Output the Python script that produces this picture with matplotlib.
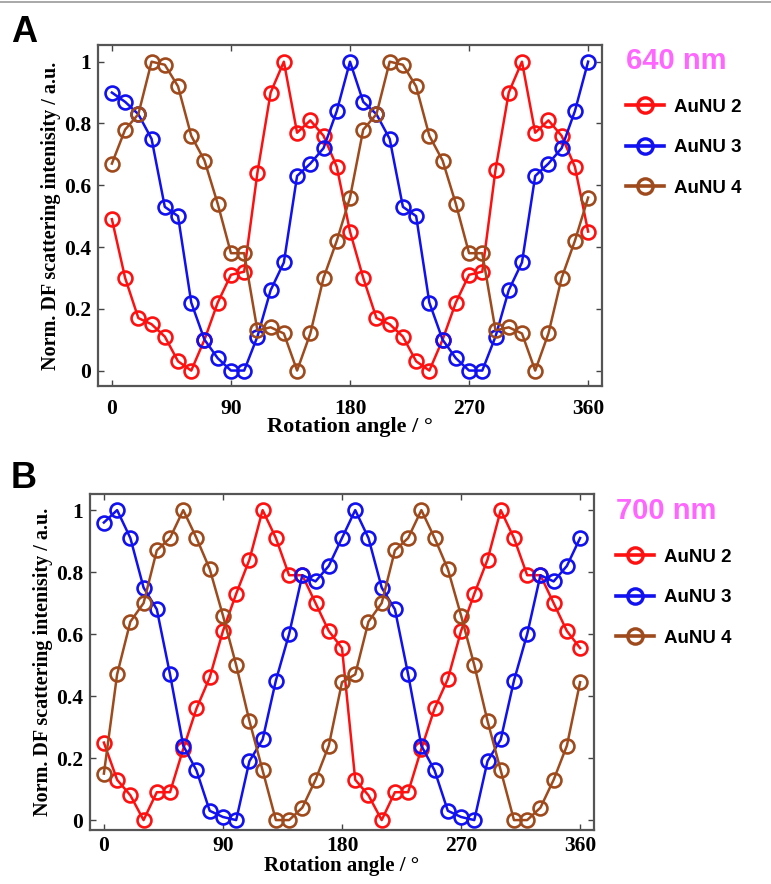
import matplotlib
matplotlib.use('Agg')
import matplotlib.pyplot as plt
from matplotlib.lines import Line2D

# ---------------- data ----------------
angles = list(range(0, 361, 10))
xticks = [0, 90, 180, 270, 360]
yticks = [0, 0.2, 0.4, 0.6, 0.8, 1]
ytick_labels = ['0', '0.2', '0.4', '0.6', '0.8', '1']
series_names = ['AuNU 2', 'AuNU 3', 'AuNU 4']
panel_titles = ['640 nm', '700 nm']
panel_letters = ['A', 'B']

# 640 nm
aunu2_640 = [0.49, 0.30, 0.17, 0.15, 0.11, 0.03, 0.00, 0.10, 0.22, 0.31,
             0.32, 0.64, 0.90, 1.00, 0.77, 0.81, 0.76, 0.66, 0.45, 0.30,
             0.17, 0.15, 0.11, 0.03, 0.00, 0.10, 0.22, 0.31, 0.32, 0.65,
             0.90, 1.00, 0.77, 0.81, 0.76, 0.66, 0.45]
aunu3_640 = [0.90, 0.87, 0.83, 0.75, 0.53, 0.50, 0.22, 0.10, 0.04, 0.00,
             0.00, 0.11, 0.26, 0.35, 0.63, 0.67, 0.72, 0.84, 1.00, 0.87,
             0.83, 0.75, 0.53, 0.50, 0.22, 0.10, 0.04, 0.00, 0.00, 0.11,
             0.26, 0.35, 0.63, 0.67, 0.72, 0.84, 1.00]
aunu4_640 = [0.67, 0.78, 0.83, 1.00, 0.99, 0.92, 0.76, 0.68, 0.54, 0.38,
             0.38, 0.13, 0.14, 0.12, 0.00, 0.12, 0.30, 0.42, 0.56, 0.78,
             0.83, 1.00, 0.99, 0.92, 0.76, 0.68, 0.54, 0.38, 0.38, 0.13,
             0.14, 0.12, 0.00, 0.12, 0.30, 0.42, 0.56]

# 700 nm
aunu2_700 = [0.25, 0.13, 0.08, 0.00, 0.09, 0.09, 0.23, 0.36, 0.46, 0.61,
             0.73, 0.84, 1.00, 0.91, 0.79, 0.79, 0.70, 0.61, 0.555, 0.13,
             0.08, 0.00, 0.09, 0.09, 0.23, 0.36, 0.455, 0.61, 0.73, 0.84,
             1.00, 0.91, 0.79, 0.79, 0.70, 0.61, 0.555]
aunu3_700 = [0.96, 1.00, 0.91, 0.75, 0.68, 0.47, 0.24, 0.16, 0.03, 0.01,
             0.00, 0.19, 0.26, 0.45, 0.60, 0.79, 0.77, 0.82, 0.91, 1.00,
             0.91, 0.75, 0.68, 0.47, 0.24, 0.16, 0.03, 0.01, 0.00, 0.19,
             0.26, 0.45, 0.60, 0.79, 0.77, 0.82, 0.91]
aunu4_700 = [0.15, 0.47, 0.64, 0.70, 0.87, 0.91, 1.00, 0.91, 0.81, 0.66,
             0.50, 0.32, 0.16, 0.00, 0.00, 0.04, 0.13, 0.24, 0.445, 0.47,
             0.64, 0.70, 0.87, 0.91, 1.00, 0.91, 0.81, 0.66, 0.50, 0.32,
             0.16, 0.00, 0.00, 0.04, 0.13, 0.24, 0.445]

panels = [[aunu2_640, aunu3_640, aunu4_640], [aunu2_700, aunu3_700, aunu4_700]]

# ---------------- style ----------------
colors = ['#FF1010', '#1010F0', '#9E4A1C']
title_color = '#FF66FF'
serif = 'Liberation Serif'
sans = 'Liberation Sans'

W, H = 771, 884
fig = plt.figure(figsize=(W / 100, H / 100), dpi=100)

axes_px = [(98, 45, 602, 386), (90, 494, 594, 830)]
ylims = [(-0.05, 1.054), (-0.032, 1.052)]
xtick_pads = [9, 4.5]
xlabel_pads = [-1, 0]
xlabel_sizes = [16, 15]
legend_px = [(626, 47), (616, 497)]
letter_px = [(11, 42), (11, 488)]

for i, (l, t, r, b) in enumerate(axes_px):
    ax = fig.add_axes([l / W, 1 - b / H, (r - l) / W, (b - t) / H])
    handles = []
    for vals, c in zip(panels[i], colors):
        ln, = ax.plot(angles, vals, '-o', color=c, lw=1.8, ms=10,
                      mfc='none', mec=c, mew=1.9)
        handles.append(ln)
    ax.set_xlim(-10.5, 370.5)
    ax.set_ylim(*ylims[i])
    ax.set_xticks(xticks)
    ax.set_yticks(yticks)
    ax.set_yticklabels(ytick_labels)
    ax.tick_params(direction='in', top=True, right=True, length=4,
                   width=1.0, color='#444444')
    ax.tick_params(axis='x', pad=xtick_pads[i])
    ax.tick_params(axis='y', pad=5)
    for lab in ax.get_xticklabels() + ax.get_yticklabels():
        lab.set_family(serif)
        lab.set_fontweight('bold')
        lab.set_fontsize(15.5)
    for s in ax.spines.values():
        s.set_color('#555555')
        s.set_linewidth(1.6)
    ax.set_xlabel('Rotation angle / °', family=serif, fontweight='bold',
                  fontsize=xlabel_sizes[i], labelpad=xlabel_pads[i])
    ax.set_ylabel('Norm. DF scattering intenisity / a.u.', family=serif,
                  fontweight='bold', fontsize=14.5, labelpad=2)

    lx, ly = legend_px[i]
    leg = ax.legend(handles, series_names, loc='upper left',
                    bbox_to_anchor=(lx / W, 1 - ly / H),
                    bbox_transform=fig.transFigure, frameon=False,
                    title=panel_titles[i],
                    title_fontproperties={'family': sans, 'weight': 'bold', 'size': 21},
                    prop={'family': sans, 'weight': 'bold', 'size': 13.5},
                    handlelength=2.0, handletextpad=0.55, labelspacing=1.25,
                    borderpad=0, borderaxespad=0, alignment='left')
    leg.get_title().set_color(title_color)
    for h in leg.legend_handles:
        h.set_linewidth(2.6)
        h.set_markeredgewidth(2.4)
        h.set_markersize(11)

    px, py = letter_px[i]
    fig.text(px / W, 1 - py / H, panel_letters[i], family=sans,
             fontweight='heavy', fontsize=26, va='baseline', ha='left')

fig.add_artist(Line2D([0, 1], [1 - 1.5 / H, 1 - 1.5 / H],
                      transform=fig.transFigure, color='#999999', lw=1.2))

fig.savefig('out.png', dpi=100)
